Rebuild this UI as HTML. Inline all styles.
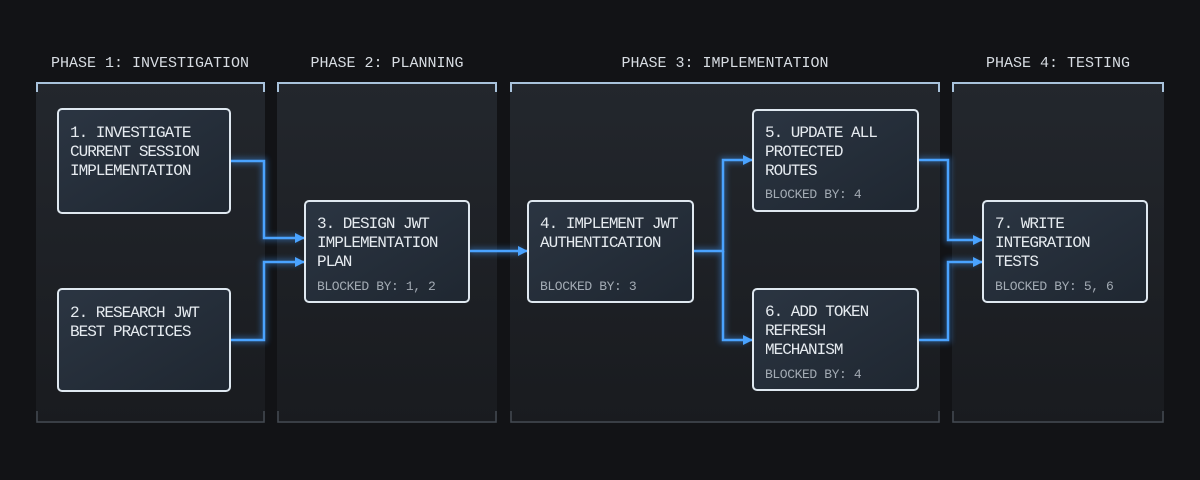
<!DOCTYPE html>
<html><head><meta charset="utf-8"><style>
html,body{margin:0;padding:0;background:#121316;}
svg{display:block}
text{font-family:"Liberation Mono","DejaVu Sans Mono",monospace;}
</style></head><body>
<svg width="1200" height="480" viewBox="0 0 1200 480" xmlns="http://www.w3.org/2000/svg">
<defs>
<linearGradient id="pg" x1="0" y1="0" x2="0" y2="1">
<stop offset="0" stop-color="#23272d"/><stop offset="1" stop-color="#191b1f"/>
</linearGradient>
<linearGradient id="bg" x1="0" y1="0" x2="1" y2="1">
<stop offset="0" stop-color="#2b3542"/><stop offset="1" stop-color="#1f2731"/>
</linearGradient>
<filter id="gl" x="-20%" y="-20%" width="140%" height="140%"><feGaussianBlur stdDeviation="3"/></filter>
<marker id="ar" markerWidth="10" markerHeight="10" refX="9" refY="5" orient="auto" markerUnits="userSpaceOnUse">
<path d="M0,0 L10,5 L0,10 z" fill="#4aa3ff"/></marker>
</defs>
<rect width="1200" height="480" fill="#121316"/>
<g font-size="15" fill="#d8dde3" text-anchor="middle">
<text x="150" y="67">PHASE 1: INVESTIGATION</text>
<text x="387" y="67">PHASE 2: PLANNING</text>
<text x="725" y="67">PHASE 3: IMPLEMENTATION</text>
<text x="1058" y="67">PHASE 4: TESTING</text>
</g>
<g>
<rect x="36" y="82" width="229" height="341" fill="url(#pg)"/>
<rect x="277" y="82" width="220" height="341" fill="url(#pg)"/>
<rect x="510" y="82" width="430" height="341" fill="url(#pg)"/>
<rect x="952" y="82" width="212" height="341" fill="url(#pg)"/>
</g>
<g fill="none" stroke="#a9c3dc" stroke-width="2">
<path d="M37,92 V83 H264 V92"/><path d="M278,92 V83 H496 V92"/>
<path d="M511,92 V83 H939 V92"/><path d="M953,92 V83 H1163 V92"/>
</g>
<g fill="none" stroke="#444a52" stroke-width="1.5">
<path d="M37,411 V422 H264 V411"/><path d="M278,411 V422 H496 V411"/>
<path d="M511,411 V422 H939 V411"/><path d="M953,411 V422 H1163 V411"/>
</g>
<g fill="none" stroke="#3d8fea" stroke-width="6" opacity="0.45" filter="url(#gl)">
<path d="M230,161 H264 V238 H300"/><path d="M230,340 H264 V262 H300"/>
<path d="M469,251 H523"/><path d="M693,251 H723 V160 H748"/><path d="M723,251 V340 H748"/>
<path d="M918,160 H948 V240 H978"/><path d="M918,340 H948 V262 H978"/>
</g>
<g fill="none" stroke="#4aa3ff" stroke-width="2.5">
<path d="M230,161 H264 V238 H304" marker-end="url(#ar)"/>
<path d="M230,340 H264 V262 H304" marker-end="url(#ar)"/>
<path d="M469,251 H527" marker-end="url(#ar)"/>
<path d="M693,251 H723 V160 H752" marker-end="url(#ar)"/>
<path d="M723,251 V340 H752" marker-end="url(#ar)"/>
<path d="M918,160 H948 V240 H982" marker-end="url(#ar)"/>
<path d="M918,340 H948 V262 H982" marker-end="url(#ar)"/>
</g>
<g fill="url(#bg)" stroke="#dfe8f0" stroke-width="2">
<rect x="58" y="109" width="172" height="104" rx="4"/>
<rect x="58" y="289" width="172" height="102" rx="4"/>
<rect x="305" y="201" width="164" height="101" rx="4"/>
<rect x="528" y="201" width="165" height="101" rx="4"/>
<rect x="753" y="110" width="165" height="101" rx="4"/>
<rect x="753" y="289" width="165" height="101" rx="4"/>
<rect x="983" y="201" width="164" height="101" rx="4"/>
</g>
<g font-size="16" fill="#e6ebf0" letter-spacing="-1">
<text x="70" y="137">1. INVESTIGATE</text><text x="70" y="156">CURRENT SESSION</text><text x="70" y="175">IMPLEMENTATION</text>
<text x="70" y="317">2. RESEARCH JWT</text><text x="70" y="336">BEST PRACTICES</text>
<text x="317" y="228">3. DESIGN JWT</text><text x="317" y="247">IMPLEMENTATION</text><text x="317" y="266">PLAN</text>
<text x="540" y="228">4. IMPLEMENT JWT</text><text x="540" y="247">AUTHENTICATION</text>
<text x="765" y="137">5. UPDATE ALL</text><text x="765" y="156">PROTECTED</text><text x="765" y="175">ROUTES</text>
<text x="765" y="316">6. ADD TOKEN</text><text x="765" y="335">REFRESH</text><text x="765" y="354">MECHANISM</text>
<text x="995" y="228">7. WRITE</text><text x="995" y="247">INTEGRATION</text><text x="995" y="266">TESTS</text>
</g>
<g font-size="13" fill="#a3abb4" letter-spacing="-0.4">
<text x="317" y="290">BLOCKED BY: 1, 2</text>
<text x="540" y="290">BLOCKED BY: 3</text>
<text x="765" y="198">BLOCKED BY: 4</text>
<text x="765" y="378">BLOCKED BY: 4</text>
<text x="995" y="290">BLOCKED BY: 5, 6</text>
</g>
</svg>
</body></html>
